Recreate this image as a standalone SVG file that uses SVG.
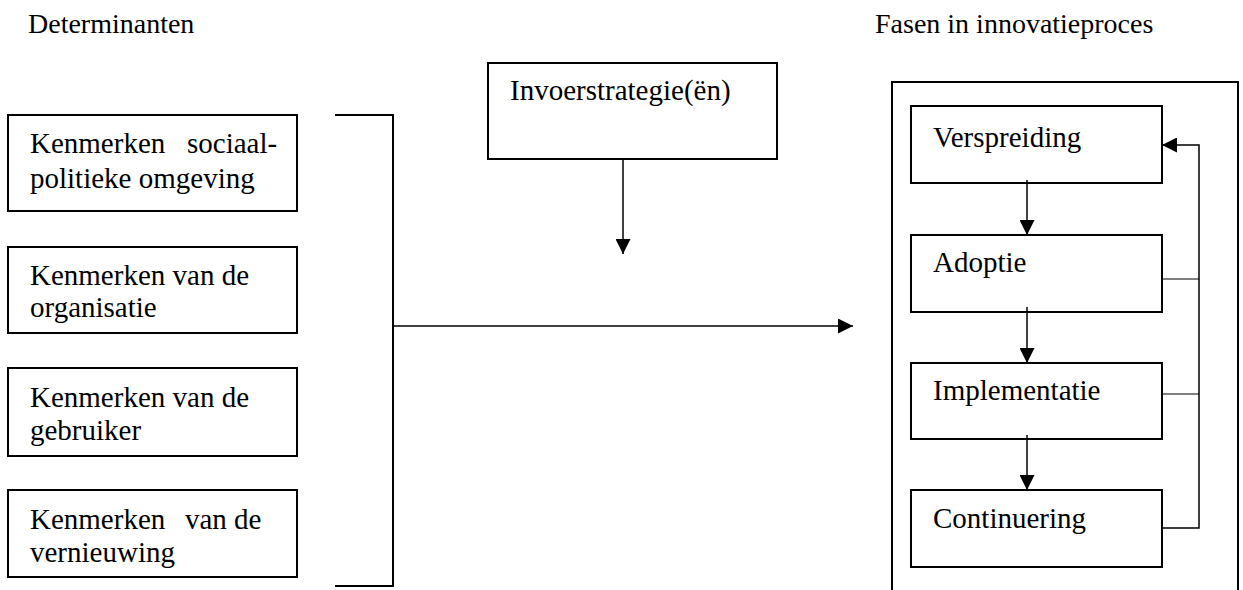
<svg xmlns="http://www.w3.org/2000/svg" width="1243" height="590" viewBox="0 0 1243 590">
<style>
text{font-family:"Liberation Serif","Times New Roman",serif;font-size:29px;fill:#000}
.h{font-size:28px}
.box{fill:#fff;stroke:#000;stroke-width:2}
.ln{fill:none;stroke:#000;stroke-width:1.5}
.fb{fill:none;stroke:#000;stroke-width:1.2}
</style>
<defs>
<marker id="ah" markerWidth="15" markerHeight="15" refX="15" refY="7.5" orient="auto" markerUnits="userSpaceOnUse">
<path d="M0,0 L15,7.5 L0,15 Z" fill="#000"/>
</marker>
</defs>
<text class="h" x="28" y="33">Determinanten</text>
<text class="h" x="875" y="33">Fasen in innovatieproces</text>
<g id="frame"><path class="box" d="M892,592 V82 H1238 V592" fill="none"/></g>
<g id="n-sociaal"><rect class="box" x="8" y="115" width="289" height="96"/><text x="30" y="153">Kenmerken</text><text x="187" y="153">sociaal-</text><text x="30" y="188">politieke omgeving</text></g>
<g id="n-organisatie"><rect class="box" x="8" y="247" width="289" height="86"/><text x="30" y="285">Kenmerken van de</text><text x="30" y="317">organisatie</text></g>
<g id="n-gebruiker"><rect class="box" x="8" y="368" width="289" height="88"/><text x="30" y="407">Kenmerken van de</text><text x="30" y="440">gebruiker</text></g>
<g id="n-vernieuwing"><rect class="box" x="8" y="490" width="289" height="87"/><text x="30" y="529">Kenmerken</text><text x="185" y="529">van de</text><text x="30" y="562">vernieuwing</text></g>
<g id="n-invoer"><rect class="box" x="488" y="63" width="289" height="96"/><text x="510" y="100">Invoerstrategie(ën)</text></g>
<g id="n-verspreiding"><rect class="box" x="911" y="106" width="251" height="77"/><text x="933" y="147">Verspreiding</text></g>
<g id="n-adoptie"><rect class="box" x="911" y="235" width="251" height="77"/><text x="933" y="272">Adoptie</text></g>
<g id="n-implementatie"><rect class="box" x="911" y="363" width="251" height="76"/><text x="933" y="400">Implementatie</text></g>
<g id="n-continuering"><rect class="box" x="911" y="490" width="251" height="77"/><text x="933" y="528">Continuering</text></g>
<g id="connectors">
<path class="box" fill="none" d="M335,115 H393 V586 H335"/>
<path class="ln" d="M393,326 H853" marker-end="url(#ah)"/>
<path class="ln" d="M623,159 V254" marker-end="url(#ah)"/>
<path class="ln" d="M1027,180 V235" marker-end="url(#ah)"/>
<path class="ln" d="M1027,307 V363" marker-end="url(#ah)"/>
<path class="ln" d="M1027,435 V490" marker-end="url(#ah)"/>
<path class="fb" d="M1162,279 H1199"/>
<path class="fb" d="M1162,394 H1199"/>
<path class="ln" d="M1162,528 H1199 V145 H1162" stroke-width="1.8" marker-end="url(#ah)"/>
</g>
</svg>
